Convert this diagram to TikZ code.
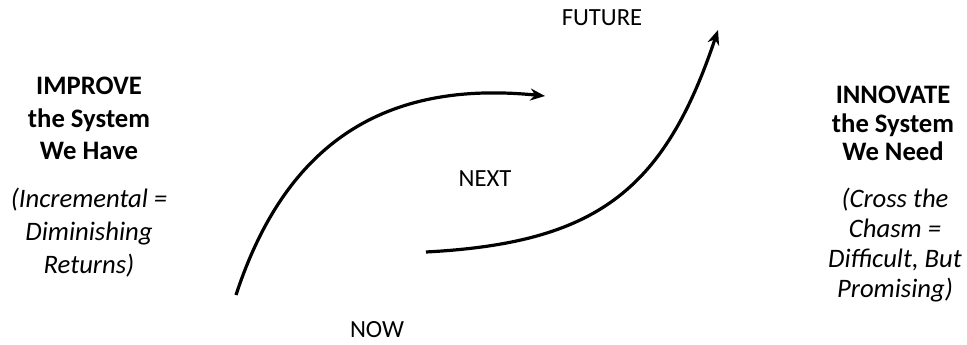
\documentclass[tikz,border=0pt]{standalone}
\usepackage{fontspec}
\setmainfont{Carlito}
\usetikzlibrary{arrows.meta}

\begin{document}
\begin{tikzpicture}[x=0.75pt, y=-0.75pt,
  head/.style={font=\fontsize{20}{24.4}\selectfont\bfseries, align=center, inner sep=0pt, anchor=base},
  note/.style={font=\fontsize{20}{24.4}\selectfont\itshape, align=center, inner sep=0pt, anchor=base},
  stage/.style={font=\fontsize{18.5}{22}\selectfont, inner sep=0pt, anchor=base},
  arr/.style={-{Stealth[length=11pt,width=9pt]}, line width=2.4pt}
]
\useasboundingbox (0,0) rectangle (967,345);

% left side (anchored at last baseline)
\node[head] (improve) at (89,160) {IMPROVE\\the System\\We Have};
\node[note] (incr) at (89,273) {(Incremental =\\Diminishing\\Returns)};

% right side
\node[head, font=\fontsize{20}{21.4}\selectfont\bfseries] (innovate) at (893,161) {INNOVATE\\the System\\We Need};
\node[note, font=\fontsize{20}{22.5}\selectfont\itshape] (chasm) at (895,297) {(Cross the\\Chasm =\\Difficult, But\\Promising)};

% stages
\node[stage] (now) at (377,337) {NOW};
\node[stage] (next) at (485,187) {NEXT};
\node[stage] (future) at (602,26) {FUTURE};

% the two curves
\coordinate (c1a) at (236,295);
\coordinate (c1b) at (545,96);
\coordinate (c2a) at (426,252);
\coordinate (c2b) at (718,30);
\draw[arr] (c1a) .. controls (289,133) and (395,81) .. (c1b);
\draw[arr] (c2a) .. controls (596,243) and (664,191) .. (c2b);
\end{tikzpicture}
\end{document}
